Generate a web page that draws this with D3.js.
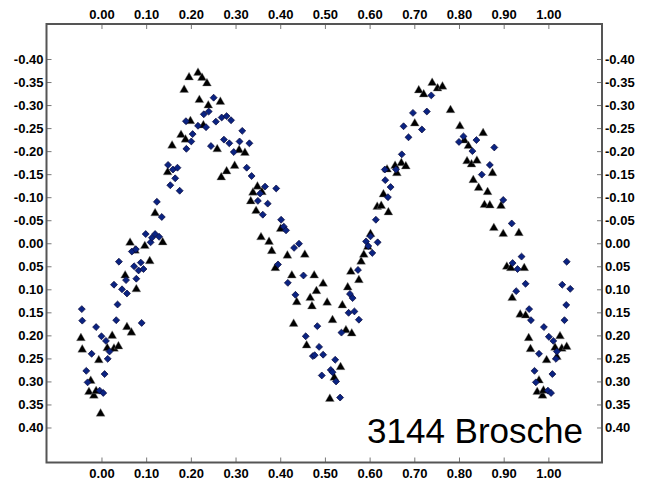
<!DOCTYPE html>
<html>
<head>
<meta charset="utf-8">
<script src="https://cdn.jsdelivr.net/npm/d3@7"></script>
<style>
  html, body { margin: 0; padding: 0; background: #fff; }
  svg { display: block; }
  .tick text { font-family: "Liberation Sans", Arial, sans-serif; font-weight: bold; font-size: 13px; fill: #000; }
</style>
</head>
<body>
<div id="chart"></div>
<script>
// Light curve of 3144 Brosche: relative magnitude against rotational phase, two nights.
const title = "3144 Brosche";

const xTicks = [0.00, 0.10, 0.20, 0.30, 0.40, 0.50, 0.60, 0.70, 0.80, 0.90, 1.00];
const yTicks = [-0.40, -0.35, -0.30, -0.25, -0.20, -0.15, -0.10, -0.05, 0.00, 0.05, 0.10, 0.15, 0.20, 0.25, 0.30, 0.35, 0.40];

// [phase, magnitude] — blue diamonds
const diamondSeries = [
  [-0.044,0.143],[-0.043,0.168],[-0.012,0.182],[-0.022,0.240],[-0.034,0.277],[-0.031,0.302],
  [0.000,0.202],[0.010,0.212],[0.018,0.235],[0.014,0.251],[0.007,0.284],[-0.004,0.320],[0.004,0.325],
  [0.033,0.167],[0.036,0.133],[0.028,0.090],[0.046,0.100],[0.057,0.109],[0.055,0.080],[0.039,0.040],
  [0.073,0.050],[0.078,0.077],[0.083,0.059],[0.088,0.042],[0.094,0.056],[0.090,0.173],[0.068,0.018],
  [0.077,0.013],[0.110,-0.002],[0.099,-0.020],[0.113,-0.012],[0.120,-0.020],[0.129,-0.014],
  [0.124,-0.090],[0.135,-0.057],[0.149,-0.170],[0.160,-0.160],[0.170,-0.164],[0.165,-0.141],
  [0.154,-0.126],[0.175,-0.114],[0.189,-0.265],[0.201,-0.221],[0.190,-0.205],[0.204,-0.237],
  [0.216,-0.255],[0.229,-0.280],[0.234,-0.252],[0.240,-0.286],[0.251,-0.316],[0.245,-0.211],
  [0.256,-0.264],[0.269,-0.273],[0.280,-0.276],[0.290,-0.267],[0.274,-0.225],[0.286,-0.217],
  [0.296,-0.198],[0.309,-0.221],[0.315,-0.244],[0.331,-0.217],[0.325,-0.164],[0.336,-0.146],
  [0.350,-0.092],[0.355,-0.108],[0.366,-0.123],[0.372,-0.086],[0.361,-0.062],[0.391,-0.119],
  [0.402,-0.051],[0.408,-0.036],[0.413,-0.028],[0.431,0.010],[0.442,0.001],[0.395,0.046],
  [0.417,0.086],[0.434,0.112],[0.452,0.070],[0.457,0.202],[0.483,0.180],[0.487,0.225],
  [0.473,0.245],[0.477,0.243],[0.496,0.242],[0.493,0.287],[0.513,0.275],[0.517,0.280],
  [0.523,0.253],[0.525,0.300],[0.534,0.335],[0.537,0.194],[0.553,0.151],[0.556,0.110],
  [0.562,0.119],[0.566,0.148],[0.576,0.166],[0.574,0.058],[0.592,-0.004],[0.597,0.006],
  [0.606,0.021],[0.618,-0.002],[0.602,-0.015],[0.614,-0.051],[0.641,-0.100],[0.647,-0.122],
  [0.635,-0.137],[0.634,-0.160],[0.659,-0.160],[0.672,-0.193],[0.687,-0.230],[0.676,-0.254],
  [0.697,-0.283],[0.717,-0.247],[0.728,-0.286],[0.738,-0.321],[0.800,-0.220],[0.810,-0.232],
  [0.830,-0.200],[0.839,-0.224],[0.851,-0.149],[0.869,-0.170],[0.879,-0.208],[0.899,-0.094],
  [0.918,-0.043],[0.920,0.043],[0.931,0.056],[0.940,0.029],[0.928,0.104],[0.949,0.088],
  [0.957,0.143],[0.961,0.167],[0.990,0.182],[1.001,0.203],[1.011,0.212],[1.019,0.235],
  [1.017,0.251],[0.979,0.240],[0.969,0.277],[0.972,0.302],[1.009,0.284],[0.999,0.320],
  [1.006,0.325],[1.041,0.040],[1.031,0.090],[1.049,0.099],[1.040,0.134],[1.036,0.167]
];

// [phase, magnitude] — black triangles
const triangleSeries = [
  [-0.046,0.206],[-0.043,0.231],[-0.024,0.299],[-0.028,0.323],[-0.017,0.331],[-0.012,0.321],
  [-0.006,0.254],[-0.002,0.370],[0.024,0.201],[0.013,0.228],[0.028,0.229],[0.038,0.224],
  [0.057,0.182],[0.067,0.194],[0.078,0.100],[0.053,0.070],[0.108,0.039],[0.097,0.006],
  [0.064,-0.001],[0.075,0.016],[0.137,-0.002],[0.120,-0.065],[0.148,-0.154],[0.158,-0.212],
  [0.178,-0.235],[0.188,-0.225],[0.185,-0.333],[0.196,-0.360],[0.216,-0.370],[0.225,-0.359],
  [0.236,-0.347],[0.219,-0.311],[0.239,-0.299],[0.199,-0.265],[0.228,-0.256],[0.266,-0.307],
  [0.259,-0.204],[0.268,-0.143],[0.280,-0.156],[0.298,-0.168],[0.308,-0.202],[0.321,-0.196],
  [0.339,-0.110],[0.349,-0.123],[0.359,-0.111],[0.334,-0.091],[0.346,-0.070],[0.357,-0.013],
  [0.375,-0.003],[0.401,-0.031],[0.381,0.017],[0.389,0.054],[0.416,0.027],[0.426,0.070],
  [0.437,0.128],[0.430,0.175],[0.455,0.025],[0.476,0.070],[0.481,0.104],[0.467,0.119],
  [0.471,0.137],[0.459,0.222],[0.496,0.088],[0.505,0.129],[0.511,0.338],[0.517,0.167],
  [0.521,0.292],[0.535,0.269],[0.539,0.135],[0.547,0.189],[0.560,0.196],[0.551,0.096],
  [0.558,0.062],[0.576,0.080],[0.581,0.040],[0.587,0.025],[0.596,0.008],[0.602,-0.020],
  [0.617,-0.079],[0.626,-0.081],[0.642,-0.067],[0.631,-0.106],[0.639,-0.160],[0.657,-0.168],
  [0.661,-0.152],[0.671,-0.174],[0.681,-0.167],[0.701,-0.260],[0.710,-0.332],[0.721,-0.323],
  [0.740,-0.348],[0.752,-0.336],[0.763,-0.340],[0.781,-0.289],[0.802,-0.254],[0.812,-0.223],
  [0.821,-0.211],[0.818,-0.178],[0.828,-0.171],[0.840,-0.179],[0.854,-0.239],[0.832,-0.137],
  [0.844,-0.120],[0.864,-0.111],[0.875,-0.152],[0.857,-0.083],[0.869,-0.082],[0.894,-0.081],
  [0.878,-0.033],[0.899,-0.020],[0.934,-0.022],[0.907,0.051],[0.916,0.054],[0.946,0.054],
  [0.919,0.119],[0.937,0.155],[0.949,0.157],[0.956,0.206],[0.960,0.230],[0.996,0.254],
  [0.979,0.298],[0.975,0.323],[0.987,0.331],[0.989,0.320],[1.019,0.247],[1.015,0.227],
  [1.026,0.202],[1.030,0.229],[1.041,0.225]
];

const W = 651, H = 485;
const frame = { left: 46.5, right: 602, top: 24, bottom: 462.5 };

const svg = d3.select("#chart").append("svg").attr("width", W).attr("height", H);

const x = d3.scaleLinear().domain([-0.123, 1.12]).range([frame.left, frame.right]);
const y = d3.scaleLinear().domain([-0.476, 0.476]).range([frame.top, frame.bottom]);

const fmt = v => (Math.abs(v) < 1e-9 ? 0 : v).toFixed(2);
const tickLen = 5;

function styleAxis(g) {
  g.select(".domain").remove();
  g.selectAll(".tick line").attr("stroke", "#777").attr("stroke-width", 1);
}

svg.append("g").attr("transform", `translate(0,${frame.bottom})`)
  .call(d3.axisBottom(x).tickValues(xTicks).tickFormat(fmt).tickSizeInner(-tickLen).tickSizeOuter(0).tickPadding(6))
  .call(styleAxis);
svg.append("g").attr("transform", `translate(0,${frame.top})`)
  .call(d3.axisTop(x).tickValues(xTicks).tickFormat(fmt).tickSizeInner(-tickLen).tickSizeOuter(0).tickPadding(5))
  .call(styleAxis);
svg.append("g").attr("transform", `translate(${frame.left},0)`)
  .call(d3.axisLeft(y).tickValues(yTicks).tickFormat(fmt).tickSizeInner(-tickLen).tickSizeOuter(0).tickPadding(3))
  .call(styleAxis);
svg.append("g").attr("transform", `translate(${frame.right},0)`)
  .call(d3.axisRight(y).tickValues(yTicks).tickFormat(fmt).tickSizeInner(-tickLen).tickSizeOuter(0).tickPadding(3))
  .call(styleAxis);

// plot frame
svg.append("rect")
  .attr("x", frame.left).attr("y", frame.top)
  .attr("width", frame.right - frame.left).attr("height", frame.bottom - frame.top)
  .attr("fill", "none").attr("stroke", "#555").attr("stroke-width", 2);

const tri = d3.symbol().type(d3.symbolTriangle).size(34);
const dia = d3.symbol().type(d3.symbolSquare).size(24);

svg.append("g").selectAll("path").data(triangleSeries).join("path")
  .attr("d", tri)
  .attr("transform", d => `translate(${x(d[0])},${y(d[1])})`)
  .attr("fill", "#000").attr("stroke", "#888").attr("stroke-width", 0.4);

svg.append("g").selectAll("path").data(diamondSeries).join("path")
  .attr("d", dia)
  .attr("transform", d => `translate(${x(d[0])},${y(d[1])}) rotate(45)`)
  .attr("fill", "#0a2382").attr("stroke", "#0a0a3c").attr("stroke-width", 0.7);

svg.append("text")
  .attr("x", 583).attr("y", 443)
  .attr("text-anchor", "end")
  .attr("font-family", "'Liberation Sans', Arial, sans-serif")
  .attr("font-size", 35)
  .attr("fill", "#000")
  .text(title);
</script>
</body>
</html>
